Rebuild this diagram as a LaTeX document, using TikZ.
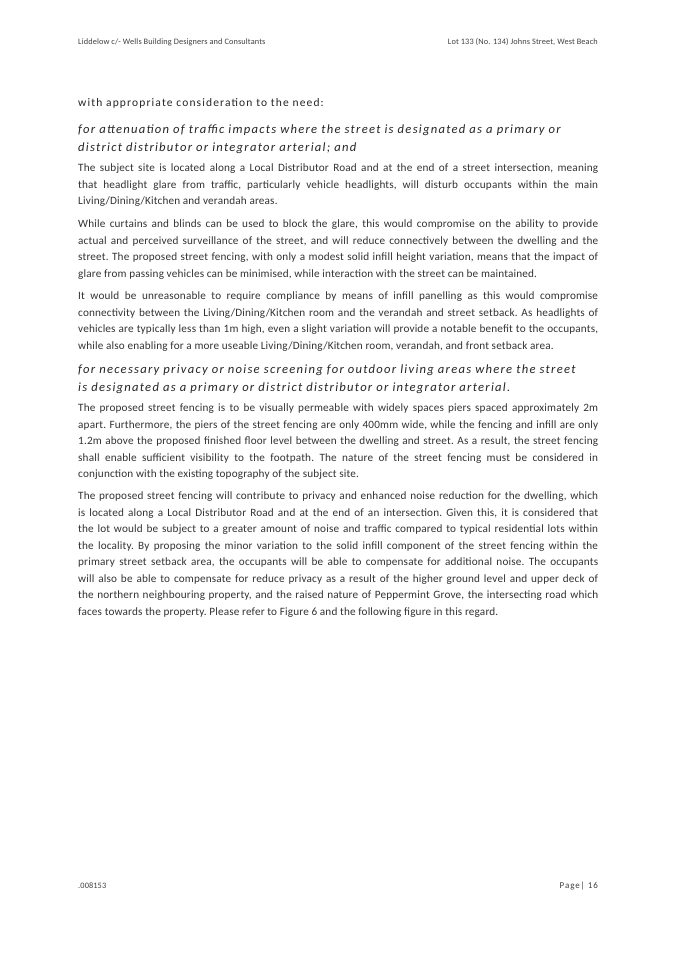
\documentclass[tikz,border=0pt]{standalone}
\usepackage{fontspec}
\setmainfont{Carlito}[LetterSpace=1.5]
\newfontfamily\spaced[LetterSpace=10]{Carlito}
\newcommand{\nohy}{\frenchspacing\hyphenpenalty=10000 \exhyphenpenalty=10000 \emergencystretch=40pt }
\newcommand{\lb}{\linebreak}
\tikzset{para/.style={anchor=north west,inner sep=0pt,text width=520pt,align=justify,font=\fontsize{11.2}{16.5}\selectfont,text=black!80},
head/.style={anchor=north west,inner sep=0pt,text width=520pt,align=flush left,font=\spaced\fontsize{12.6}{18.5}\selectfont\itshape,text=black!85},
small/.style={inner sep=0pt,font=\fontsize{8.3}{10}\selectfont,text=black!75}}
\begin{document}
\begin{tikzpicture}[x=1pt,y=-1pt]
\useasboundingbox (0,0) rectangle (675,955);
\fill[white] (0,0) rectangle (675,955);
\node[small,anchor=west] (h1) at (78,42) {Liddelow c/- Wells Building Designers and Consultants};
\node[small,anchor=east] (h2) at (598,42) {Lot 133 (No. 134) Johns Street, West Beach};
\node[anchor=north west,inner sep=0pt,font=\spaced\fontsize{11.5}{14}\selectfont,text=black!85] (a) at (78,98) {with appropriate consideration to the need:};
\node[head] (b) at (78,124.5) {\nohy for attenuation of traffic impacts where the street is designated as a primary or\\ district distributor or integrator arterial; and\par};
\node[para] (p1) at (78,164) {\nohy The subject site is located along a Local Distributor Road and at the end of a street intersection, meaning\lb{} that headlight glare from traffic, particularly vehicle headlights, will disturb occupants within the main\lb{} Living/Dining/Kitchen and verandah areas.\par};
\node[para] (p2) at (78,220) {\nohy While curtains and blinds can be used to block the glare, this would compromise on the ability to provide\lb{} actual and perceived surveillance of the street, and will reduce connectively between the dwelling and the\lb{} street. The proposed street fencing, with only a modest solid infill height variation, means that the impact of\lb{} glare from passing vehicles can be minimised, while interaction with the street can be maintained.\par};
\node[para] (p3) at (78,292) {\nohy It would be unreasonable to require compliance by means of infill panelling as this would compromise\lb{} connectivity between the Living/Dining/Kitchen room and the verandah and street setback. As headlights of\lb{} vehicles are typically less than 1m high, even a slight variation will provide a notable benefit to the occupants,\lb{} while also enabling for a more useable Living/Dining/Kitchen room, verandah, and front setback area.\par};
\node[head] (c) at (78,364.5) {\nohy for necessary privacy or noise screening for outdoor living areas where the street\\ is designated as a primary or district distributor or integrator arterial.\par};
\node[para] (p4) at (78,404) {\nohy The proposed street fencing is to be visually permeable with widely spaces piers spaced approximately 2m\lb{} apart. Furthermore, the piers of the street fencing are only 400mm wide, while the fencing and infill are only\lb{} 1.2m above the proposed finished floor level between the dwelling and street. As a result, the street fencing\lb{} shall enable sufficient visibility to the footpath. The nature of the street fencing must be considered in\lb{} conjunction with the existing topography of the subject site.\par};
\node[para] (p5) at (78,492) {\nohy The proposed street fencing will contribute to privacy and enhanced noise reduction for the dwelling, which\lb{} is located along a Local Distributor Road and at the end of an intersection. Given this, it is considered that\lb{} the lot would be subject to a greater amount of noise and traffic compared to typical residential lots within\lb{} the locality. By proposing the minor variation to the solid infill component of the street fencing within the\lb{} primary street setback area, the occupants will be able to compensate for additional noise. The occupants\lb{} will also be able to compensate for reduce privacy as a result of the higher ground level and upper deck of\lb{} the northern neighbouring property, and the raised nature of Peppermint Grove, the intersecting road which\lb{} faces towards the property. Please refer to Figure 6 and the following figure in this regard.\par};
\node[small,anchor=west] (f1) at (78,886) {.008153};
\node[small,anchor=east,font=\spaced\fontsize{9}{10}\selectfont] (f2) at (598,886) {Page| 16};
\end{tikzpicture}
\end{document}
